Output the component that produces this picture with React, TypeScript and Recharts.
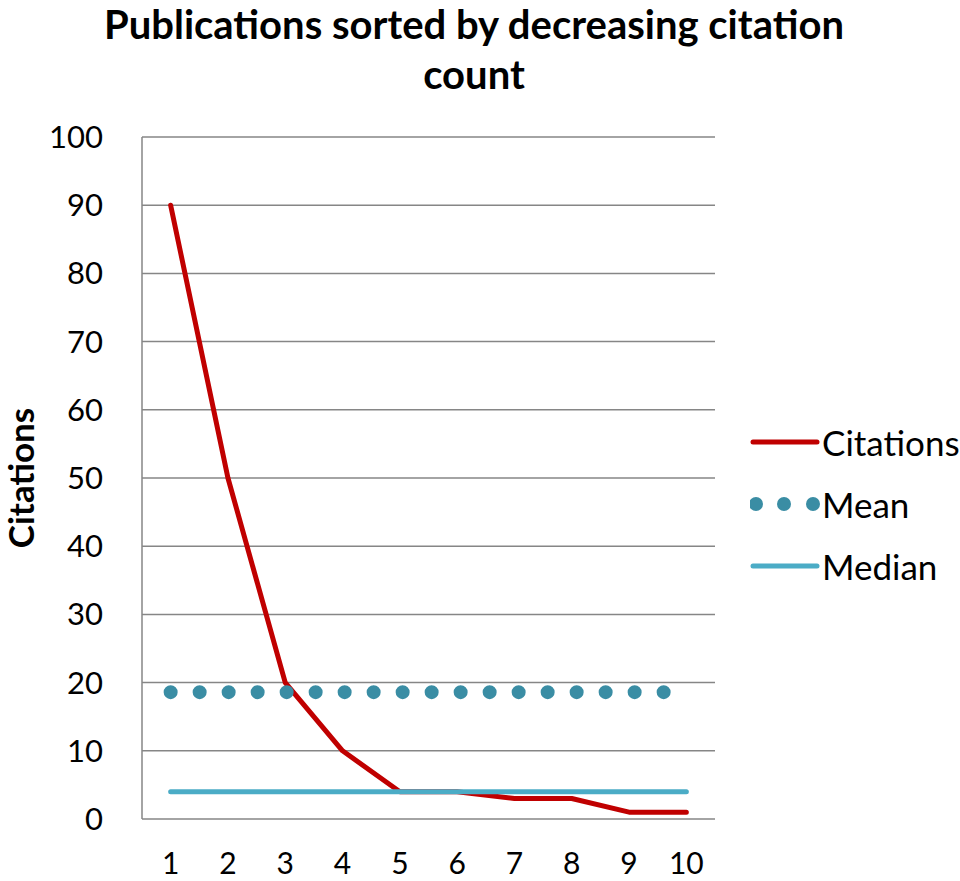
import { LineChart, Line, XAxis, YAxis, CartesianGrid } from 'recharts';

const publications = ['1', '2', '3', '4', '5', '6', '7', '8', '9', '10'];
const citations = [90, 50, 20, 10, 4, 4, 3, 3, 1, 1];
const meanValue = 18.6;
const medianValue = 4;
const yTicks = [0, 10, 20, 30, 40, 50, 60, 70, 80, 90, 100];

const data = publications.map((pub, i) => ({
  pub,
  citations: citations[i],
  mean: meanValue,
  median: medianValue
}));

const FONT = 'Lato, "Open Sans", sans-serif';

const legendItems = [
  { label: 'Citations', kind: 'line', color: '#C00000' },
  { label: 'Mean', kind: 'dots', color: '#3A8DA4' },
  { label: 'Median', kind: 'line', color: '#4BACC6' }
];

function LegendBox() {
  return (
    <div style={{ position: 'absolute', left: 750, top: 411, width: 210, fontFamily: FONT }}>
      {legendItems.map((item) => (
        <div key={item.label} style={{ display: 'flex', alignItems: 'center', height: 62 }}>
          <svg width={72} height={20}>
            {item.kind === 'line' ? (
              <line x1={3} y1={10} x2={67} y2={10} stroke={item.color} strokeWidth={5} strokeLinecap="round" />
            ) : (
              [6, 34, 63].map((cx) => <circle key={cx} cx={cx} cy={10} r={7} fill={item.color} />)
            )}
          </svg>
          <span style={{ fontSize: 35, color: '#000', whiteSpace: 'nowrap' }}>{item.label}</span>
        </div>
      ))}
    </div>
  );
}

const titleStyle = {
  position: 'absolute' as const,
  left: 0,
  width: 948,
  textAlign: 'center' as const,
  fontWeight: 'bold',
  fontSize: 40,
  lineHeight: '48px',
  whiteSpace: 'nowrap' as const
};

export default function App() {
  return (
    <div style={{ position: 'absolute', left: 0, top: 0, width: 960, height: 881, background: '#fff', fontFamily: FONT }}>
      <LineChart
        width={960}
        height={881}
        data={data}
        margin={{ top: 137, right: 245, bottom: 0, left: 0 }}
        style={{ position: 'absolute', left: 0, top: 0 }}
      >
        <CartesianGrid vertical={false} stroke="#868686" strokeWidth={1.5} />
        <XAxis
          dataKey="pub"
          height={62}
          padding={{ left: 28.65, right: 28.65 }}
          axisLine={false}
          tickLine={false}
          tickSize={0}
          tickMargin={34}
          tick={{ fontSize: 30, fill: '#000', fontFamily: FONT }}
          interval={0}
        />
        <YAxis
          width={142}
          domain={[0, 100]}
          ticks={yTicks}
          interval={0}
          axisLine={{ stroke: '#868686', strokeWidth: 1.5 }}
          tickLine={false}
          tickSize={0}
          tickMargin={39}
          tick={{ fontSize: 31, fill: '#000', fontFamily: FONT }}
        />
        <Line
          dataKey="citations"
          stroke="#C00000"
          strokeWidth={5}
          strokeLinejoin="round"
          strokeLinecap="round"
          dot={false}
          activeDot={false}
          isAnimationActive={false}
        />
        <Line
          dataKey="mean"
          stroke="#3A8DA4"
          strokeWidth={14}
          strokeDasharray="0 29"
          strokeLinecap="round"
          dot={false}
          activeDot={false}
          isAnimationActive={false}
        />
        <Line
          dataKey="median"
          stroke="#4BACC6"
          strokeWidth={5}
          strokeLinecap="round"
          dot={false}
          activeDot={false}
          isAnimationActive={false}
        />
      </LineChart>
      <div style={{ ...titleStyle, top: 0 }}>Publications sorted by decreasing citation</div>
      <div style={{ ...titleStyle, top: 50 }}>count</div>
      <div
        style={{
          position: 'absolute',
          left: 20,
          top: 478,
          transform: 'translate(-50%, -50%) rotate(-90deg)',
          fontWeight: 'bold',
          fontSize: 35,
          whiteSpace: 'nowrap'
        }}
      >
        Citations
      </div>
      <LegendBox />
    </div>
  );
}
